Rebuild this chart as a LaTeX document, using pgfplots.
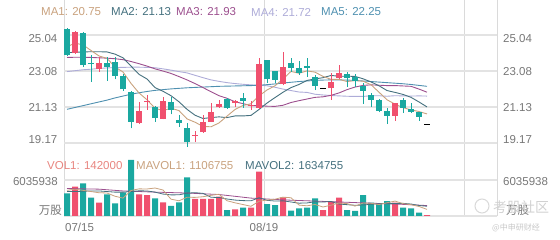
\documentclass[border=0pt]{standalone}
\usepackage{pgfplots}
\pgfplotsset{compat=1.18}
\usepackage{fontspec}
\setmainfont{Liberation Sans}
\newfontfamily\cjk{Noto Sans CJK SC}
\definecolor{cred}{HTML}{F0506E}
\definecolor{cteal}{HTML}{1AA8A0}
\definecolor{ma1}{HTML}{C9A27E}
\definecolor{ma2}{HTML}{44707E}
\definecolor{ma3}{HTML}{9C4F8E}
\definecolor{ma4}{HTML}{AEACD8}
\definecolor{ma5}{HTML}{4F90B0}
\definecolor{gridc}{HTML}{E3E3E3}
\definecolor{vgridc}{HTML}{DADADA}
\definecolor{lab}{HTML}{777777}
\definecolor{vol1}{HTML}{E8857F}
\begin{document}
\begin{tikzpicture}[x=1pt,y=1pt,every node/.style={inner sep=0pt,font=\fontsize{11.5}{13}\selectfont}]
\path[use as bounding box] (0,0) rectangle (560,240);
% ---------------- price panel ----------------
\begin{axis}[at={(64pt,90pt)},anchor=south west,scale only axis,width=433pt,height=150pt,
  xmin=0.625,xmax=54.75,ymin=18.789,ymax=26.942,
  axis line style={draw=none},major tick length=0pt,
  xtick={0.625,25.625,50.625,54.75},ytick={19.17,21.13,23.08,25.04},
  xticklabels={},yticklabels={},
  xmajorgrids,ymajorgrids,
  major x grid style={vgridc,line width=0.8pt},
  major y grid style={gridc,line width=1.4pt},
  unbounded coords=jump]
% MA lines
\addplot[ma4,line width=0.9pt] coordinates {(1,23.05)(2,23.10)(3,23.15)(4,23.18)(5,23.22)(6,23.25)(7,23.27)(8,23.28)(9,23.29)(10,23.29)(11,23.28)(12,23.26)(13,23.20)(14,23.13)(15,23.05)(16,22.98)(17,22.85)(18,22.72)(19,22.60)(20,22.52)(21,22.45)(22,22.40)(23,22.36)(24,22.33)(25,22.31)(26,22.28)(27,22.20)(28,22.10)(29,22.02)(30,21.94)(31,21.92)(32,21.82)(33,21.78)(34,21.75)(35,21.73)(36,21.71)(37,21.70)(38,21.70)(39,21.74)(40,21.74)(41,21.71)(42,21.74)(43,21.73)(44,21.72)(45,21.73)(46,21.72)};
\addplot[ma5,line width=0.9pt] coordinates {(1,21.00)(2,21.10)(3,21.20)(4,21.30)(5,21.40)(6,21.50)(7,21.62)(8,21.72)(9,21.82)(10,21.90)(11,21.97)(12,22.03)(13,22.07)(14,22.11)(15,22.14)(16,22.17)(17,22.19)(18,22.21)(19,22.23)(20,22.25)(21,22.26)(22,22.27)(23,22.28)(24,22.29)(25,22.31)(26,22.34)(27,22.38)(28,22.43)(29,22.47)(30,22.51)(31,22.54)(32,22.57)(33,22.59)(34,22.60)(35,22.60)(36,22.59)(37,22.57)(38,22.54)(39,22.51)(40,22.48)(41,22.45)(42,22.42)(43,22.39)(44,22.35)(45,22.30)(46,22.25)};
\addplot[ma3,line width=0.9pt] coordinates {(1,23.82)(2,23.83)(3,23.83)(4,23.82)(5,23.80)(6,23.78)(7,23.75)(8,23.70)(9,23.60)(10,23.48)(11,23.35)(12,23.20)(13,23.08)(14,22.95)(15,22.78)(16,22.60)(17,22.40)(18,22.18)(19,21.96)(20,21.74)(21,21.60)(22,21.41)(23,21.31)(24,21.20)(25,21.20)(26,21.17)(27,21.16)(28,21.22)(29,21.37)(30,21.47)(31,21.56)(32,21.65)(33,21.68)(34,21.76)(35,21.89)(36,22.07)(37,22.21)(38,22.30)(39,22.33)(40,22.31)(41,22.29)(42,22.29)(43,22.27)(44,22.25)(45,22.10)(46,21.93)};
\addplot[ma2,line width=0.9pt] coordinates {(1,24.08)(2,24.10)(3,24.12)(4,24.13)(5,24.13)(6,24.12)(7,24.00)(8,23.80)(9,23.35)(10,22.90)(11,22.65)(12,22.18)(13,21.98)(14,21.74)(15,21.41)(16,21.00)(17,20.68)(18,20.50)(19,20.55)(20,20.59)(21,20.55)(22,20.64)(23,20.64)(24,20.67)(25,20.99)(26,21.34)(27,21.64)(28,21.93)(29,22.18)(30,22.35)(31,22.57)(32,22.65)(33,22.72)(34,22.84)(35,22.80)(36,22.80)(37,22.79)(38,22.66)(39,22.49)(40,22.28)(41,22.02)(42,21.92)(43,21.81)(44,21.65)(45,21.40)(46,21.13)};
\addplot[ma1,line width=0.9pt] coordinates {(1,24.40)(2,24.60)(3,24.50)(4,24.20)(5,23.90)(6,23.77)(7,23.30)(8,23.03)(9,22.41)(10,21.89)(11,21.52)(12,21.06)(13,20.93)(14,21.06)(15,20.93)(16,20.48)(17,20.30)(18,20.07)(19,20.05)(20,20.26)(21,20.63)(22,20.99)(23,21.21)(24,21.30)(25,21.73)(26,22.05)(27,22.28)(28,22.65)(29,23.06)(30,22.96)(31,23.09)(32,23.02)(33,22.79)(34,22.63)(35,22.63)(36,22.51)(37,22.56)(38,22.53)(39,22.34)(40,21.93)(41,21.52)(42,21.28)(43,21.09)(44,20.97)(45,20.88)(46,20.75)};
% red candles: wicks (low-high) and bodies (open-close)
\addplot[cred,line width=1pt] coordinates {(2,24.00)(2,25.24)(2,nan)(5,23.05)(5,23.83)(5,nan)(10,20.20)(10,21.39)(10,nan)(11,20.97)(11,21.78)(11,nan)(13,20.45)(13,21.69)(13,nan)(17,19.25)(17,19.83)(17,nan)(18,19.72)(18,20.70)(18,nan)(19,20.30)(19,21.33)(19,nan)(20,21.08)(20,21.51)(20,nan)(22,21.15)(22,21.51)(22,nan)(24,20.97)(24,21.46)(24,nan)(25,21.02)(25,23.77)(25,nan)(28,22.30)(28,24.13)(28,nan)(34,21.51)(34,22.96)(34,nan)(35,22.65)(35,23.41)(35,nan)(42,20.37)(42,21.36)};
\addplot[cred,line width=6pt] coordinates {(2,24.04)(2,25.19)(2,nan)(5,23.18)(5,23.50)(5,nan)(10,20.24)(10,20.91)(10,nan)(11,21.39)(11,21.46)(11,nan)(13,20.48)(13,21.46)(13,nan)(17,19.57)(17,19.63)(17,nan)(18,19.76)(18,20.33)(18,nan)(19,20.33)(19,20.84)(19,nan)(20,21.11)(20,21.29)(20,nan)(22,21.37)(22,21.43)(22,nan)(24,21.19)(24,21.25)(24,nan)(25,21.09)(25,23.45)(25,nan)(28,22.36)(28,23.32)(28,nan)(34,22.15)(34,22.47)(34,nan)(35,22.69)(35,22.96)(35,nan)(42,20.66)(42,21.33)};
% teal candles
\addplot[cteal,line width=1pt] coordinates {(1,23.90)(1,25.40)(1,nan)(3,23.30)(3,25.19)(3,nan)(4,22.49)(4,23.95)(4,nan)(6,22.54)(6,23.86)(6,nan)(7,22.63)(7,23.86)(7,nan)(8,22.00)(8,22.90)(8,nan)(9,19.97)(9,22.00)(9,nan)(12,20.33)(12,21.20)(12,nan)(14,20.73)(14,21.69)(14,nan)(15,20.06)(15,20.69)(15,nan)(16,18.97)(16,20.24)(16,nan)(21,21.02)(21,21.60)(21,nan)(23,21.09)(23,21.87)(23,nan)(26,22.42)(26,23.70)(26,nan)(27,22.42)(27,23.10)(27,nan)(29,23.05)(29,23.77)(29,nan)(30,22.87)(30,23.63)(30,nan)(31,22.77)(31,23.77)(31,nan)(32,22.05)(32,22.87)(32,nan)(36,22.23)(36,23.05)(36,nan)(37,22.23)(37,22.91)(37,nan)(38,21.29)(38,22.42)(38,nan)(39,21.15)(39,21.87)(39,nan)(40,20.84)(40,21.55)(40,nan)(41,20.19)(41,21.09)(41,nan)(43,20.79)(43,21.60)(43,nan)(44,20.79)(44,21.33)(44,nan)(45,20.37)(45,20.85)};
\addplot[cteal,line width=6pt] coordinates {(1,23.95)(1,25.37)(1,nan)(3,23.41)(3,25.13)(3,nan)(4,23.45)(4,23.54)(4,nan)(6,23.29)(6,23.50)(6,nan)(7,22.83)(7,23.56)(7,nan)(8,22.09)(8,22.83)(8,nan)(9,20.33)(9,21.96)(9,nan)(12,20.52)(12,21.15)(12,nan)(14,20.97)(14,21.39)(14,nan)(15,20.27)(15,20.40)(15,nan)(16,19.21)(16,20.01)(16,nan)(21,21.06)(21,21.56)(21,nan)(23,21.46)(23,21.64)(23,nan)(26,22.65)(26,23.68)(26,nan)(27,22.60)(27,23.08)(27,nan)(29,23.26)(29,23.50)(29,nan)(30,22.99)(30,23.23)(30,nan)(31,23.26)(31,23.35)(31,nan)(32,22.29)(32,22.77)(32,nan)(36,22.69)(36,22.91)(36,nan)(37,22.54)(37,22.77)(37,nan)(38,22.00)(38,22.29)(38,nan)(39,21.51)(39,21.78)(39,nan)(40,20.91)(40,21.51)(40,nan)(41,20.66)(41,20.91)(41,nan)(43,21.06)(43,21.51)(43,nan)(44,20.88)(44,21.02)(44,nan)(45,20.60)(45,20.84)};
% flat candles
\addplot[black,line width=1.2pt] coordinates {(32.625,22.15)(33.375,22.15)(33,nan)(45.625,20.19)(46.375,20.19)};
\end{axis}
% ---------------- volume panel ----------------
\begin{axis}[at={(64pt,24pt)},anchor=south west,scale only axis,width=433pt,height=66pt,
  xmin=0.625,xmax=54.75,ymin=0,ymax=11065886,
  axis line style={draw=none},major tick length=0pt,
  xtick={0.625,25.625,50.625,54.75},ytick={0,6035938},
  xticklabels={},yticklabels={},scaled y ticks=false,
  xmajorgrids,ymajorgrids,
  major x grid style={vgridc,line width=0.8pt},
  major y grid style={gridc,line width=1.2pt}]
\addplot[ybar,bar width=6pt,bar shift=0pt,fill=cred,draw=none] coordinates {(2,4910000)(5,2230000)(10,3630000)(11,3520000)(13,2290000)(17,2850000)(18,2850000)(19,2850000)(20,3240000)(22,1120000)(24,1400000)(25,7430000)(28,3130000)(33,1000000)(34,2400000)(35,3070000)(42,2230000)(46,142000)};
\addplot[ybar,bar width=6pt,bar shift=0pt,fill=cteal,draw=none] coordinates {(1,3810000)(3,5480000)(4,3070000)(6,3630000)(7,2120000)(8,3970000)(9,9390000)(12,2960000)(14,1680000)(15,2290000)(16,6480000)(21,1000000)(23,1400000)(26,2010000)(27,1840000)(29,890000)(30,1290000)(31,1400000)(32,2960000)(36,1000000)(37,840000)(38,3520000)(39,2230000)(40,2010000)(41,2510000)(43,1400000)(44,1290000)(45,560000)};
\addplot[ma3,line width=0.8pt] coordinates {(1,4600000)(5,4500000)(8,4200000)(12,4000000)(16,3850000)(20,3600000)(24,3000000)(28,2700000)(32,2500000)(36,2300000)(40,2100000)(43,1950000)(46,1750000)};
\addplot[ma2,line width=0.8pt] coordinates {(1,4100000)(2,4100000)(3,4150000)(4,4200000)(5,4200000)(6,4100000)(7,4000000)(8,4000000)(9,4100000)(10,4220000)(11,4200000)(12,4000000)(13,3680000)(14,3540000)(15,3550000)(16,3830000)(17,3910000)(18,3790000)(19,3140000)(20,3100000)(21,2850000)(22,2670000)(23,2580000)(24,2550000)(25,3060000)(26,2620000)(27,2510000)(28,2540000)(29,2350000)(30,2150000)(31,2190000)(32,2380000)(33,2340000)(34,2440000)(35,2000000)(36,1900000)(37,1800000)(38,1840000)(39,1970000)(40,2040000)(41,2150000)(42,2080000)(43,2120000)(44,2010000)(45,1760000)(46,1634755)};
\addplot[ma1,line width=0.8pt] coordinates {(1,4300000)(2,4500000)(3,4300000)(4,4100000)(5,3900000)(6,3860000)(7,3310000)(8,3000000)(9,4270000)(10,4550000)(11,4530000)(12,4690000)(13,4360000)(14,2820000)(15,2550000)(16,3140000)(17,3120000)(18,3230000)(19,3460000)(20,3650000)(21,2560000)(22,2210000)(23,1920000)(24,1630000)(25,2470000)(26,2670000)(27,2820000)(28,3160000)(29,3060000)(30,1830000)(31,1710000)(32,1930000)(33,1510000)(34,1810000)(35,2170000)(36,2090000)(37,1660000)(38,2170000)(39,2130000)(40,1920000)(41,2220000)(42,2500000)(43,2080000)(44,1890000)(45,1600000)(46,1106755)};
\end{axis}
% ---------------- texts ----------------
\node[anchor=west,text=ma1] at (41,228) {MA1: 20.75};
\node[anchor=west,text=ma2] at (111,228) {MA2: 21.13};
\node[anchor=west,text=ma3] at (176,228) {MA3: 21.93};
\node[anchor=west,text=ma4] at (251,228) {MA4: 21.72};
\node[anchor=west,text=ma5] at (321,228) {MA5: 22.25};
\node[anchor=west,text=vol1] at (47,74) {VOL1: 142000};
\node[anchor=west,text=ma1] at (136,74) {MAVOL1: 1106755};
\node[anchor=west,text=ma2] at (245,74) {MAVOL2: 1634755};
\foreach \v/\yy in {25.04/201,23.08/168.5,21.13/132.5,19.17/100}{
  \node[anchor=east,text=lab] at (57.5,\yy) {\v};
  \node[anchor=west,text=lab] at (503,\yy) {\v};
}
\node[anchor=east,text=lab] at (58,58) {6035938};
\node[anchor=west,text=lab] at (503,58) {6035938};
\node[anchor=east,text=lab] at (62,30) {\cjk 万股};
\node[anchor=west,text=lab] at (506,30) {\cjk 万股};
\node[anchor=west,text=lab] at (65,13) {07/15};
\node[text=lab] at (264,13) {08/19};
% watermark
\draw[black!15,line width=1pt] (482,34) circle (7);
\node[anchor=west,text=black!18,font=\fontsize{14}{16}\selectfont\cjk] at (493,33) {考股社区};
\node[anchor=west,text=black!22,font=\fontsize{8}{9}\selectfont\cjk] at (492,12) {@中申研财经};
\end{tikzpicture}
\end{document}
